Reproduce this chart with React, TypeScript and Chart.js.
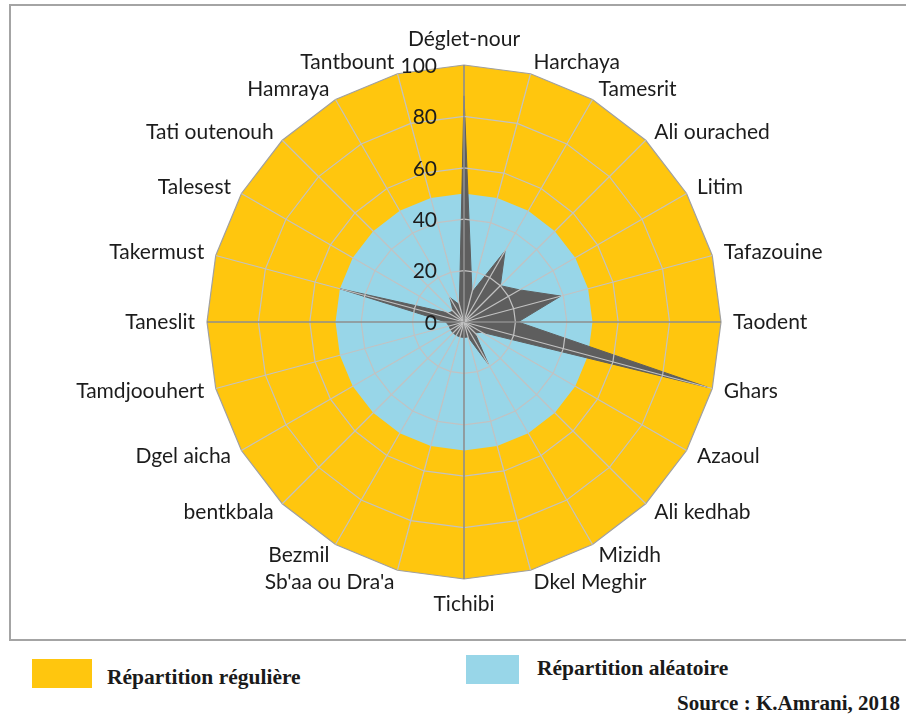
import React, { useEffect, useRef } from 'react';
import { Chart, registerables } from 'chart.js';

Chart.register(...registerables);

const categories = [
  'Déglet-nour', 'Harchaya', 'Tamesrit', 'Ali ourached', 'Litim', 'Tafazouine',
  'Taodent', 'Ghars', 'Azaoul', 'Ali kedhab', 'Mizidh', 'Dkel Meghir',
  'Tichibi', "Sb'aa ou Dra'a", 'Bezmil', 'bentkbala', 'Dgel aicha', 'Tamdjoouhert',
  'Taneslit', 'Takermust', 'Talesest', 'Tati outenouh', 'Hamraya', 'Tantbount',
];

const observedValues = [88, 12, 32, 20, 25, 39, 21, 98, 8, 6, 19, 6, 6, 6, 6, 6, 6, 6, 7, 50, 7, 6, 11, 7];
const regularValues = [100, 100, 100, 100, 100, 100, 100, 100, 100, 100, 100, 100, 100, 100, 100, 100, 100, 100, 100, 100, 100, 100, 100, 100];
const randomValues = [50, 50, 50, 50, 50, 50, 50, 50, 50, 50, 50, 50, 50, 50, 50, 50, 50, 50, 50, 50, 50, 50, 50, 50];

const tickMin = 0;
const tickMax = 100;
const tickStep = 20;

const legendLabels = ['Répartition régulière', 'Répartition aléatoire'];
const sourceText = 'Source : K.Amrani, 2018';

const YELLOW = '#ffc60e';
const BLUE = '#98d6e8';
const STAR = '#5e5e5e';

const labelPlugin = {
  id: 'customRadarLabels',
  afterDraw(chart: any) {
    const scale = chart.scales.r;
    const ctx = chart.ctx;
    ctx.save();
    ctx.font = '21px Lato';
    ctx.fillStyle = '#1c1c1c';
    // tick labels, right aligned, left of the vertical axis
    ctx.textAlign = 'right';
    ctx.textBaseline = 'middle';
    scale.ticks.forEach((t: any) => {
      const d = scale.getDistanceFromCenterForValue(t.value);
      ctx.fillText(String(t.label ?? t.value), scale.xCenter - 27, scale.yCenter - d + 1);
    });
    // point labels
    const labels: string[] = chart.data.labels;
    const n = labels.length;
    labels.forEach((lab, i) => {
      const top = i === 0;
      const bottom = i === n / 2;
      const p = scale.getPointPosition(i, scale.drawingArea + (top || bottom ? 15 : 12));
      if (top) {
        ctx.textAlign = 'center';
        ctx.textBaseline = 'bottom';
      } else if (bottom) {
        ctx.textAlign = 'center';
        ctx.textBaseline = 'top';
      } else if (i < n / 2) {
        ctx.textAlign = 'left';
        ctx.textBaseline = 'middle';
      } else {
        ctx.textAlign = 'right';
        ctx.textBaseline = 'middle';
      }
      ctx.fillText(lab, p.x, p.y);
    });
    ctx.restore();
  },
};

export default function App() {
  const canvasRef = useRef<HTMLCanvasElement | null>(null);

  useEffect(() => {
    if (!canvasRef.current) return;
    const chart = new Chart(canvasRef.current, {
      type: 'radar',
      data: {
        labels: categories,
        datasets: [
          {
            label: 'Valeurs observées',
            data: observedValues,
            backgroundColor: STAR,
            borderColor: STAR,
            borderWidth: 1,
            pointRadius: 0,
            fill: 'origin',
            tension: 0,
          },
          {
            label: legendLabels[1],
            data: randomValues,
            backgroundColor: BLUE,
            borderColor: 'rgba(0,0,0,0)',
            borderWidth: 0,
            pointRadius: 0,
            fill: 'origin',
            tension: 0,
          },
          {
            label: legendLabels[0],
            data: regularValues,
            backgroundColor: YELLOW,
            borderColor: 'rgba(0,0,0,0)',
            borderWidth: 0,
            pointRadius: 0,
            fill: 'origin',
            tension: 0,
          },
        ],
      },
      options: {
        responsive: false,
        maintainAspectRatio: false,
        animation: false,
        events: [],
        layout: { padding: { left: 207, top: 65, right: 185, bottom: 66 } },
        plugins: {
          legend: { display: false },
          tooltip: { enabled: false },
        },
        scales: {
          r: {
            min: tickMin,
            max: tickMax,
            ticks: { stepSize: tickStep, display: false },
            pointLabels: { display: false },
            grid: {
              z: 1,
              circular: false,
              color: (c: any) => (c.index === 5 ? '#a0a0a0' : '#c2c2c2'),
              lineWidth: 1.2,
            },
            angleLines: {
              display: true,
              color: (c: any) => (c.index % 6 === 0 ? '#8e8e8e' : '#c2c2c2'),
              lineWidth: (c: any) => (c.index % 6 === 0 ? 1.6 : 1.2),
            },
          },
        },
      },
      plugins: [labelPlugin],
    });
    return () => chart.destroy();
  }, []);

  const serif = '"Liberation Serif", "Times New Roman", serif';

  return (
    <div style={{ position: 'absolute', left: 0, top: 0, width: 906, height: 718, overflow: 'hidden', background: '#fff' }}>
      <div
        style={{
          position: 'absolute',
          left: 9,
          top: 4,
          width: 920,
          height: 633,
          border: '2px solid #a4a4a4',
          boxSizing: 'content-box',
        }}
      />
      <canvas ref={canvasRef} width={906} height={645} style={{ position: 'absolute', left: 0, top: 0, width: 906, height: 645 }} />
      <div style={{ position: 'absolute', left: 32, top: 659, width: 60, height: 29, background: YELLOW }} />
      <div style={{ position: 'absolute', left: 107, top: 665, lineHeight: '24px', font: `bold 21.5px ${serif}`, color: '#1a1a1a', whiteSpace: 'nowrap' }}>
        {legendLabels[0]}
      </div>
      <div style={{ position: 'absolute', left: 466, top: 655, width: 53, height: 29, background: BLUE }} />
      <div style={{ position: 'absolute', left: 537, top: 656, lineHeight: '24px', font: `bold 21.5px ${serif}`, color: '#1a1a1a', whiteSpace: 'nowrap' }}>
        {legendLabels[1]}
      </div>
      <div style={{ position: 'absolute', right: 6, top: 691, lineHeight: '24px', font: `bold 21px ${serif}`, color: '#1a1a1a', whiteSpace: 'nowrap' }}>
        {sourceText}
      </div>
    </div>
  );
}
